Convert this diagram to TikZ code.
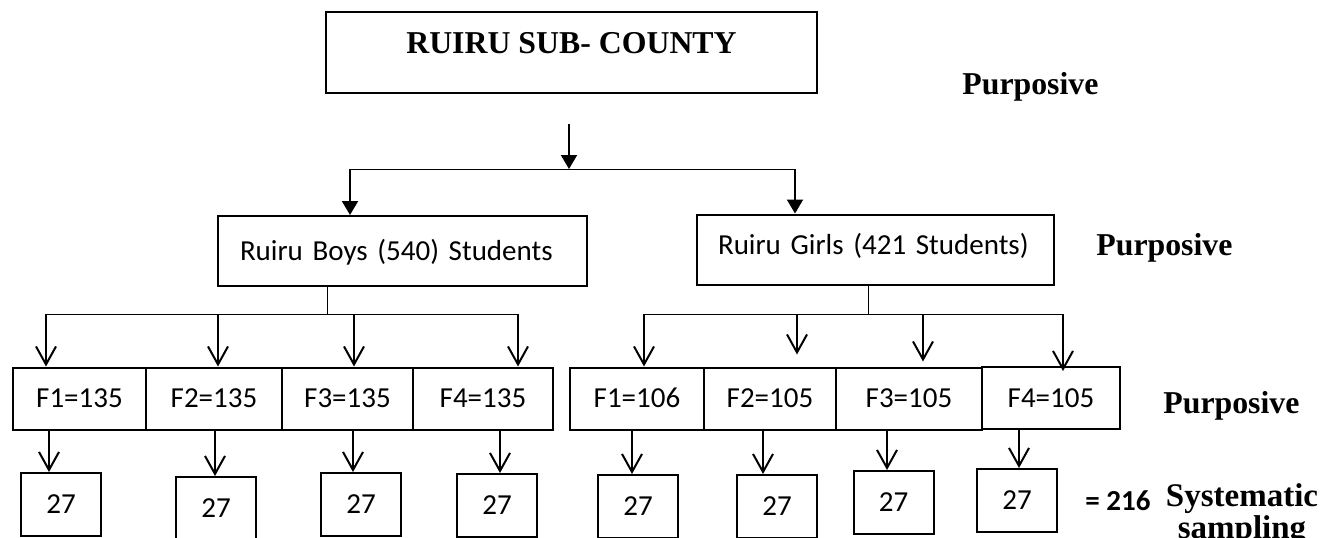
\documentclass[tikz,border=0pt]{standalone}
\usepackage{fontspec}
\setmainfont{Liberation Serif}
\newfontfamily\carlito{Carlito}
\usetikzlibrary{arrows.meta}

\begin{document}
\begin{tikzpicture}[x=0.5pt,y=-0.5pt,
    box/.style={draw,rectangle,line width=1pt,inner sep=0pt},
    schoolbox/.style={box,minimum height=35pt,align=left,inner xsep=11pt,
      font=\carlito\fontsize{14.5}{17}\selectfont,text height=10pt,text depth=0.7pt},
    formbox/.style={box,minimum height=31pt,
      font=\carlito\fontsize{14.5}{17}\selectfont,text height=10pt,text depth=0.7pt},
    samplebox/.style={box,minimum width=40pt,minimum height=31.5pt,
      font=\carlito\fontsize{14.5}{17}\selectfont},
    method/.style={anchor=base west,inner sep=0pt,font=\bfseries\fontsize{15.9}{18}\selectfont},
    link/.style={line width=0.5pt},
    fat/.style={line width=1pt,-{Triangle[length=7pt,width=8pt]}},
    barb/.style={line width=1pt,-{Straight Barb[length=9pt,width=10pt]}}]
  \useasboundingbox (0,0) rectangle (1328,537);

  % top level
  \node[box,minimum width=245.5pt,minimum height=40.5pt,text height=11pt,text depth=10pt,
    font=\bfseries\fontsize{15.9}{18}\selectfont] (county) at (571.5,52.5) {RUIRU SUB- COUNTY};
  \node[method] (p1) at (962,94) {Purposive};

  % schools
  \node[schoolbox,text width=162.5pt] (boys) at (402.5,251) {Ruiru Boys (540) Students};
  \node[schoolbox,text width=157.5pt,inner xsep=10.5pt,text depth=5.2pt] (girls) at (875.5,249.5) {Ruiru Girls (421 Students)};
  \node[method] (p2) at (1096,255) {Purposive};

  % forms
  \node[formbox,minimum width=66.5pt] (bf1) at (79.5,398.5) {F1=135};
  \node[formbox,minimum width=68pt] (bf2) at (214,398.5) {F2=135};
  \node[formbox,minimum width=65.5pt] (bf3) at (347.5,398.5) {F3=135};
  \node[formbox,minimum width=70pt] (bf4) at (483,398.5) {F4=135};
  \node[formbox,minimum width=67pt] (gf1) at (637,398.5) {F1=106};
  \node[formbox,minimum width=66pt] (gf2) at (770,398.5) {F2=105};
  \node[formbox,minimum width=73pt] (gf3) at (909,398.5) {F3=105};
  \node[formbox,minimum width=69pt] (gf4) at (1051,398) {F4=105};
  \node[method] (p3) at (1163,413) {Purposive};

  % samples
  \node[samplebox] (s1) at (61,504.5) {27};
  \node[samplebox] (s2) at (216,508.5) {27};
  \node[samplebox] (s3) at (361,504.5) {27};
  \node[samplebox] (s4) at (497,505.5) {27};
  \node[samplebox] (s5) at (638,506.5) {27};
  \node[samplebox] (s6) at (777,506.5) {27};
  \node[samplebox] (s7) at (893.5,502.5) {27};
  \node[samplebox] (s8) at (1017,500.5) {27};
  \node[anchor=base west,inner sep=0pt,font=\carlito\bfseries\fontsize{14.5}{17}\selectfont] (total) at (1085,510) {= 216};
  \node[anchor=north,inner sep=0pt,align=center,font=\bfseries\fontsize{16.5}{14}\selectfont] (sys) at (1242,483) {Systematic\\sampling};

  % junctions
  \coordinate (c0) at (569,124);
  \coordinate (c1) at (569,169);
  \coordinate (cl) at (350,169);
  \coordinate (cr) at (795,169);
  \coordinate (bj) at (327,314);
  \coordinate (bl) at (46,314);
  \coordinate (br) at (518,314);
  \coordinate (gj) at (868,314);
  \coordinate (gl) at (644,314);
  \coordinate (gr) at (1063,314);

  \draw[fat] (c0) to (c1);
  \draw[link] (cl) to (cr);
  \draw[fat] (cl) to (cl |- boys.north);
  \draw[fat] (cr) to (cr |- girls.north);

  \draw[link] (boys.south -| bj) to (bj);
  \draw[link] (bl) to (br);
  \draw[barb] (bl) to (bl |- bf1.north);
  \draw[barb] (218,314) to (218,0 |- bf2.north);
  \draw[barb] (354,314) to (354,0 |- bf3.north);
  \draw[barb] (br) to (br |- bf4.north);

  \draw[link] (girls.south -| gj) to (gj);
  \draw[link] (gl) to (gr);
  \draw[barb] (gl) to (gl |- gf1.north);
  \draw[barb,shorten >=6pt] (797,314) to (797,0 |- gf2.north);
  \draw[barb,shorten >=2.5pt] (923,314) to (923,0 |- gf3.north);
  \draw[barb,shorten >=-2.5pt] (gr) to (gr |- gf4.north);

  \draw[barb] (49,0 |- bf1.south) to (49,0 |- s1.north);
  \draw[barb] (215,0 |- bf2.south) to (215,0 |- s2.north);
  \draw[barb] (353,0 |- bf3.south) to (353,0 |- s3.north);
  \draw[barb] (500,0 |- bf4.south) to (500,0 |- s4.north);
  \draw[barb] (632,0 |- gf1.south) to (632,0 |- s5.north);
  \draw[barb] (763,0 |- gf2.south) to (763,0 |- s6.north);
  \draw[barb] (887,0 |- gf3.south) to (887,0 |- s7.north);
  \draw[barb] (1019,0 |- gf4.south) to (1019,0 |- s8.north);
\end{tikzpicture}
\end{document}
